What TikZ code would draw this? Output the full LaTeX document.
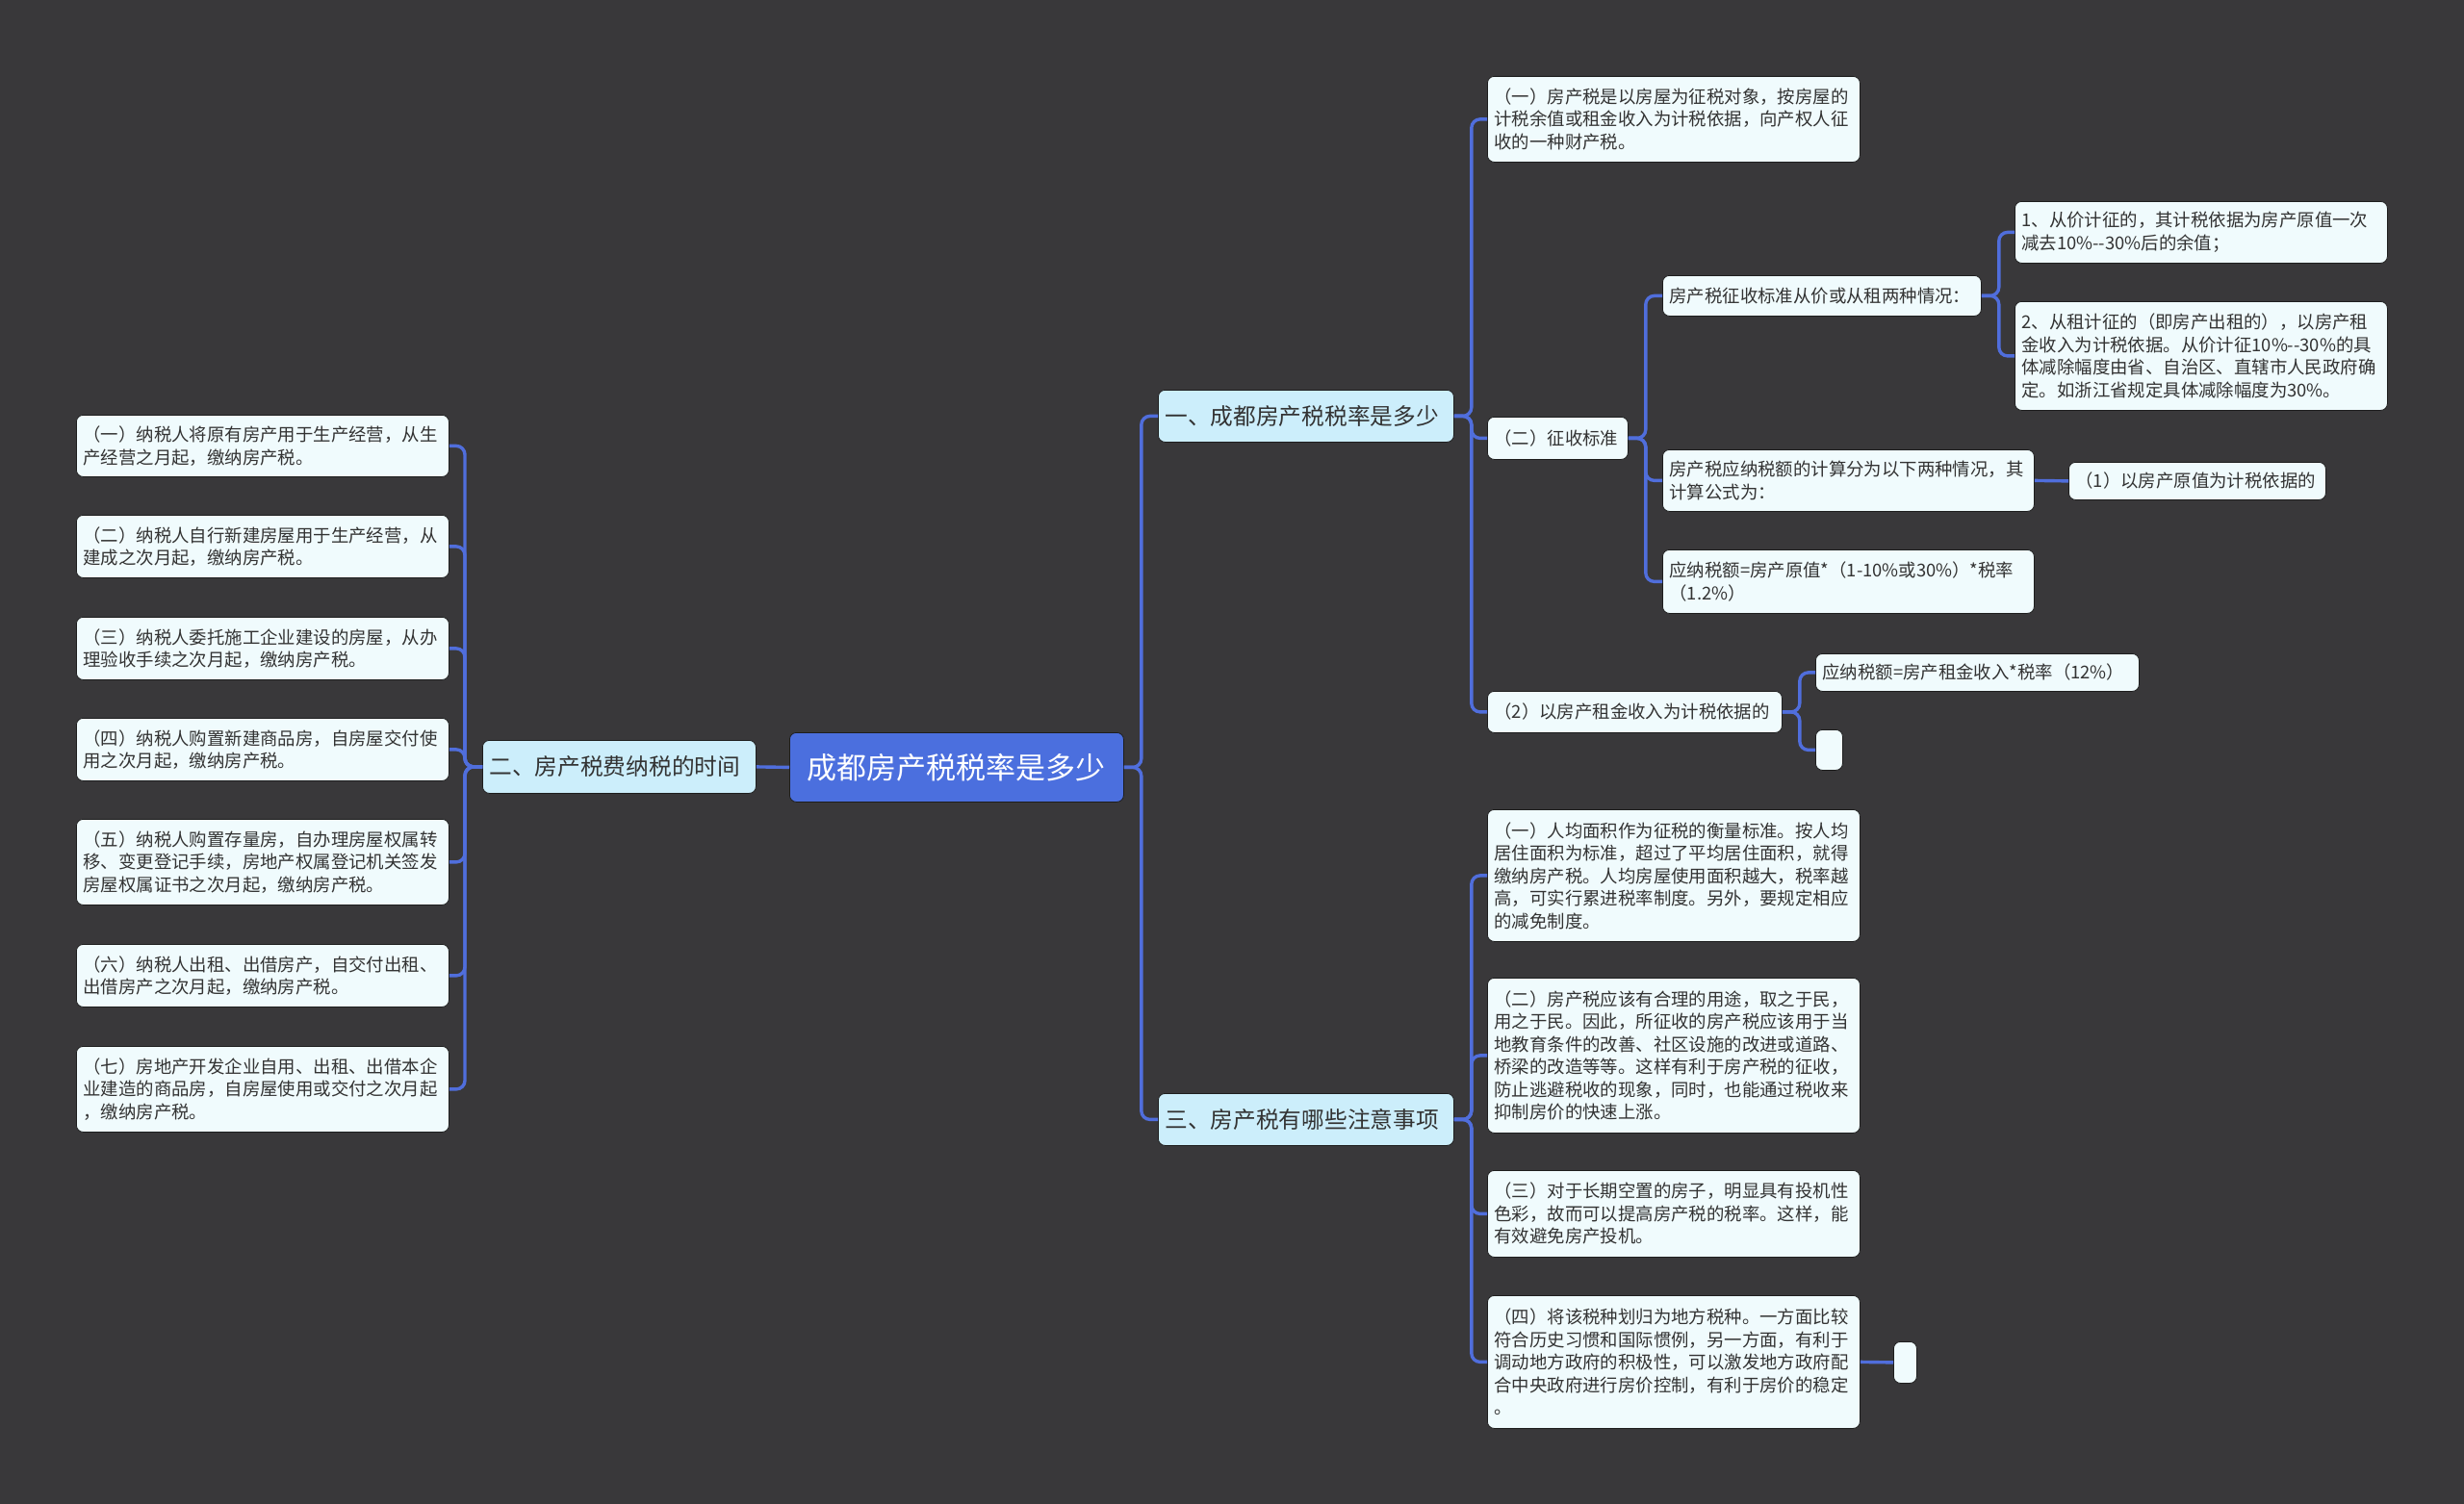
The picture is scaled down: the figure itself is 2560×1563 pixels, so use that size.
\documentclass[tikz,border=0pt]{standalone}
\usepackage{fontspec}
\setmainfont{Noto Sans CJK SC}
\definecolor{bgc}{RGB}{57,56,58}
\definecolor{linec}{RGB}{80,110,220}
\definecolor{rootc}{RGB}{75,111,222}
\definecolor{mainc}{RGB}{204,238,251}
\definecolor{leafc}{RGB}{240,251,253}
\definecolor{txtc}{RGB}{51,51,51}
\definecolor{edgec}{RGB}{30,30,30}
\tikzset{
  box/.style={anchor=north west, rounded corners=7pt, draw=edgec, line width=0.8pt, text=txtc, align=left, inner xsep=7pt, inner ysep=0pt},
  leaf/.style={box, fill=leafc, font=\fontsize{18.4}{23.5}\selectfont},
  mainbox/.style={box, fill=mainc, font=\fontsize{23.7}{28}\selectfont},
  rootbox/.style={box, fill=rootc, text=white, font=\fontsize{31}{36}\selectfont, align=center},
  conn/.style={draw=linec, line width=3.4pt, rounded corners=9pt},
}
\begin{document}
\begin{tikzpicture}[x=1pt,y=-1pt]
\useasboundingbox (0,0) rectangle (2560,1563);
\fill[bgc] (0,0) rectangle (2560,1563);

% root and main branches
\node[rootbox, text width=333pt, minimum height=72pt] (root) at (820,761) {成都房产税税率是多少};
\node[mainbox, text width=270pt, minimum height=55pt] (m2) at (501,769) {二、房产税费纳税的时间};
\node[mainbox, text width=293pt, minimum height=54pt] (m1) at (1203,405) {一、成都房产税税率是多少};
\node[mainbox, text width=293pt, minimum height=54pt] (m3) at (1203,1136) {三、房产税有哪些注意事项};

% left leaves
\node[leaf, text width=373pt, minimum height=64pt] (l1) at (79,431) {（一）纳税人将原有房产用于生产经营，从生\\产经营之月起，缴纳房产税。};
\node[leaf, text width=373pt, minimum height=65pt] (l2) at (79,535) {（二）纳税人自行新建房屋用于生产经营，从\\建成之次月起，缴纳房产税。};
\node[leaf, text width=373pt, minimum height=65pt] (l3) at (79,641) {（三）纳税人委托施工企业建设的房屋，从办\\理验收手续之次月起，缴纳房产税。};
\node[leaf, text width=373pt, minimum height=65pt] (l4) at (79,746) {（四）纳税人购置新建商品房，自房屋交付使\\用之次月起，缴纳房产税。};
\node[leaf, text width=373pt, minimum height=89pt] (l5) at (79,851) {（五）纳税人购置存量房，自办理房屋权属转\\移、变更登记手续，房地产权属登记机关签发\\房屋权属证书之次月起，缴纳房产税。};
\node[leaf, text width=373pt, minimum height=65pt] (l6) at (79,981) {（六）纳税人出租、出借房产，自交付出租、\\出借房产之次月起，缴纳房产税。};
\node[leaf, text width=373pt, minimum height=89pt] (l7) at (79,1087) {（七）房地产开发企业自用、出租、出借本企\\业建造的商品房，自房屋使用或交付之次月起\\，缴纳房产税。};

% right, branch one
\node[leaf, text width=373pt, minimum height=89pt] (r1) at (1545,79) {（一）房产税是以房屋为征税对象，按房屋的\\计税余值或租金收入为计税依据，向产权人征\\收的一种财产税。};
\node[leaf, text width=132pt, minimum height=44pt] (zs) at (1545,433) {（二）征收标准};
\node[leaf, text width=292pt, minimum height=43pt] (r2) at (1545,718) {（2）以房产租金收入为计税依据的};
\node[leaf, text width=317pt, minimum height=42pt] (ra) at (1727,286) {房产税征收标准从价或从租两种情况：};
\node[leaf, text width=373pt, minimum height=64pt] (ra1) at (2093,209) {1、从价计征的，其计税依据为房产原值一次\\减去10\%-{}-30\%后的余值；};
\node[leaf, text width=373pt, minimum height=113pt] (ra2) at (2093,313) {2、从租计征的（即房产出租的），以房产租\\金收入为计税依据。从价计征10\%-{}-30\%的具\\体减除幅度由省、自治区、直辖市人民政府确\\定。如浙江省规定具体减除幅度为30\%。};
\node[leaf, text width=372pt, minimum height=64pt] (rb) at (1727,467) {房产税应纳税额的计算分为以下两种情况，其\\计算公式为：};
\node[leaf, text width=253pt, minimum height=39pt] (rb1) at (2149,480) {（1）以房产原值为计税依据的};
\node[leaf, text width=372pt, minimum height=66pt] (rc) at (1727,571) {应纳税额=房产原值*（1-10\%或30\%）*税率\\（1.2\%）};
\node[leaf, text width=322pt, minimum height=39pt] (r2a) at (1886,679) {应纳税额=房产租金收入*税率（12\%）};
\node[leaf, inner xsep=0pt, minimum width=28pt, minimum height=42pt] (r2b) at (1886,758) {};

% right, branch three
\node[leaf, text width=373pt, minimum height=137pt] (s1) at (1545,841) {（一）人均面积作为征税的衡量标准。按人均\\居住面积为标准，超过了平均居住面积，就得\\缴纳房产税。人均房屋使用面积越大，税率越\\高，可实行累进税率制度。另外，要规定相应\\的减免制度。};
\node[leaf, text width=373pt, minimum height=161pt] (s2) at (1545,1016) {（二）房产税应该有合理的用途，取之于民，\\用之于民。因此，所征收的房产税应该用于当\\地教育条件的改善、社区设施的改进或道路、\\桥梁的改造等等。这样有利于房产税的征收，\\防止逃避税收的现象，同时，也能通过税收来\\抑制房价的快速上涨。};
\node[leaf, text width=373pt, minimum height=90pt] (s3) at (1545,1216) {（三）对于长期空置的房子，明显具有投机性\\色彩，故而可以提高房产税的税率。这样，能\\有效避免房产投机。};
\node[leaf, text width=373pt, minimum height=138pt] (s4) at (1545,1346) {（四）将该税种划归为地方税种。一方面比较\\符合历史习惯和国际惯例，另一方面，有利于\\调动地方政府的积极性，可以激发地方政府配\\合中央政府进行房价控制，有利于房价的稳定\\。};
\node[leaf, inner xsep=0pt, minimum width=24pt, minimum height=43pt] (s4a) at (1967,1394) {};

% connectors
\draw[conn] (root.west) -- (m2.east);
\foreach \c in {l1,l2,l3,l4,l5,l6,l7} \draw[conn] (m2.west) -- ++(-18,0) |- (\c.east);
\foreach \c in {m1,m3} \draw[conn] (root.east) -- ++(18,0) |- (\c.west);
\foreach \c in {r1,zs,r2} \draw[conn] (m1.east) -- ++(18,0) |- (\c.west);
\foreach \c in {ra,rb,rc} \draw[conn] (zs.east) -- ++(18,0) |- (\c.west);
\foreach \c in {ra1,ra2} \draw[conn] (ra.east) -- ++(18,0) |- (\c.west);
\draw[conn] (rb.east) -- (rb1.west);
\foreach \c in {r2a,r2b} \draw[conn] (r2.east) -- ++(18,0) |- (\c.west);
\foreach \c in {s1,s2,s3,s4} \draw[conn] (m3.east) -- ++(18,0) |- (\c.west);
\draw[conn] (s4.east) -- (s4a.west);
\end{tikzpicture}
\end{document}
